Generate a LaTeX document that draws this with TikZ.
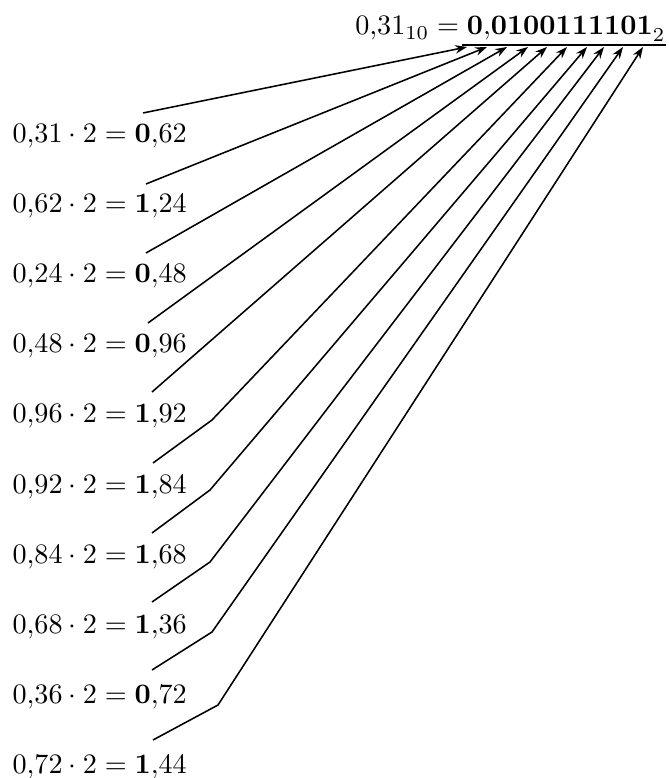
\documentclass[tikz,border=0pt]{standalone}
\usetikzlibrary{arrows.meta}
\begin{document}
\begin{tikzpicture}[x=0.355pt,y=-0.355pt,
  conn/.style={line width=0.55pt,-{Stealth[length=4.2pt,width=3pt]}},
  lbl/.style={inner sep=0pt,anchor=base west},
  uline/.style={line width=0.8pt}]
\useasboundingbox (0,0) rectangle (668,778);
% result
\node[inner sep=0pt,anchor=base east] (res) at (666,35) {$0{,}31_{10}=\mathbf{0{,}0100111101}_2$};
\coordinate (ul) at (462,45);
\coordinate (ur) at (666,45);
\draw[uline] (ul) -- (ur);
% rows
\foreach \i/\a/\b/\c in {1/31/0/62, 2/62/1/24, 3/24/0/48, 4/48/0/96, 5/96/1/92,
                         6/92/1/84, 7/84/1/68, 8/68/1/36, 9/36/0/72, 10/72/1/44}{
  \node[lbl] (r\i) at (12,{143+70*(\i-1)}) {$0{,}\a\cdot 2=\mathbf{\b}{,}\c$};
}
% arrow tips under the digits
\foreach \i/\x in {1/467, 2/487, 3/507, 4/528, 5/547, 6/567, 7/587, 8/604, 9/623, 10/643}{
  \coordinate (t\i) at (\x,47);
}
% start points and bends
\coordinate (s1) at (143,113);
\coordinate (s2) at (146,184);
\coordinate (s3) at (146,253);
\coordinate (s4) at (148,323);
\coordinate (s5) at (152,392);
\coordinate (s6) at (153,463);  \coordinate (b6) at (212,420);
\coordinate (s7) at (152,533);  \coordinate (b7) at (210,490);
\coordinate (s8) at (152,602);  \coordinate (b8) at (210,562);
\coordinate (s9) at (152,670);  \coordinate (b9) at (212,632);
\coordinate (s10) at (153,740); \coordinate (b10) at (218,705);
\foreach \i in {1,...,5}{ \draw[conn] (s\i) -- (t\i); }
\foreach \i in {6,...,10}{ \draw[conn] (s\i) -- (b\i) -- (t\i); }
\end{tikzpicture}
\end{document}
